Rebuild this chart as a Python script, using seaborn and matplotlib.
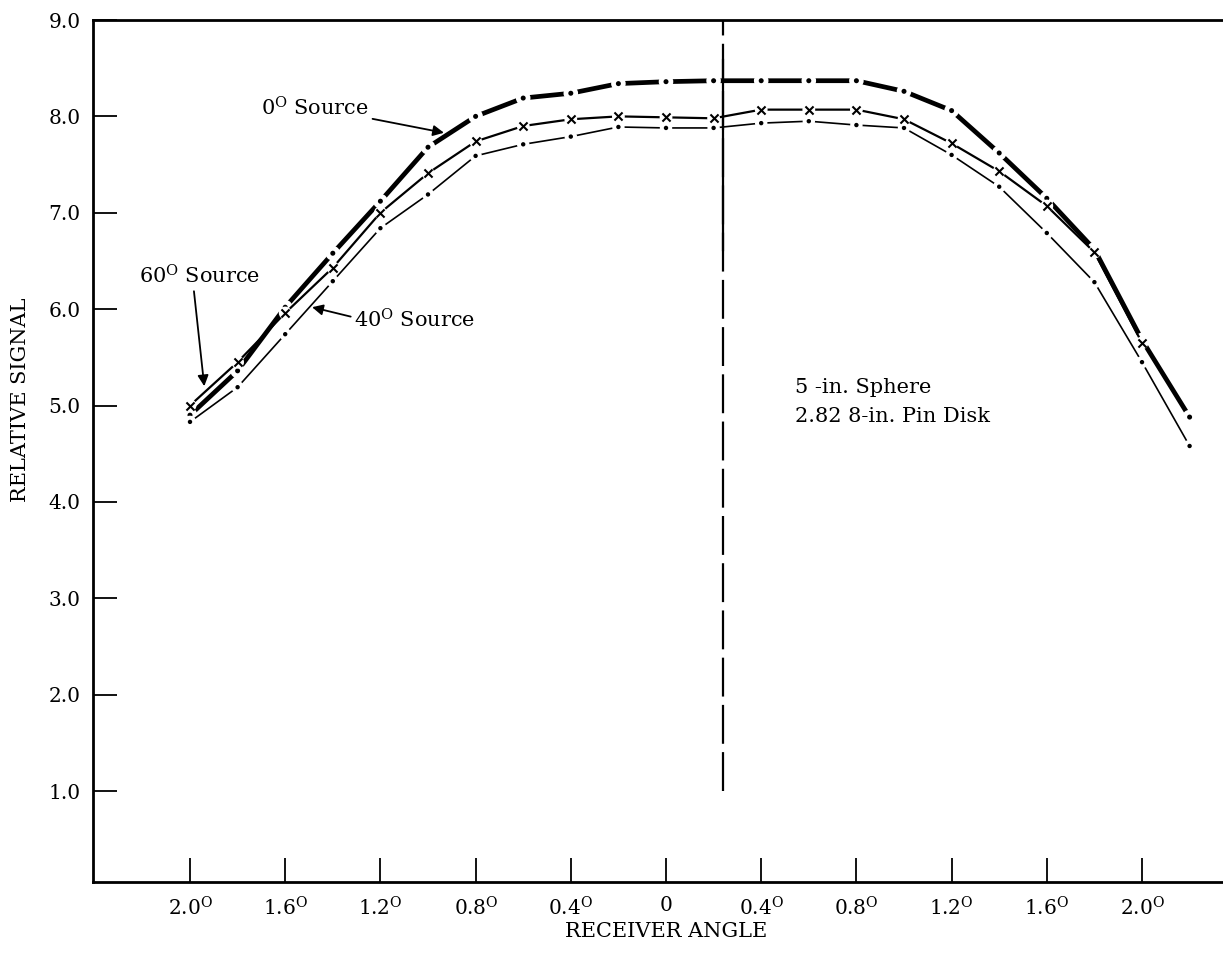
import matplotlib
matplotlib.use("Agg")
import matplotlib.pyplot as plt
import seaborn as sns

# ---------------- data ----------------
angle = [-2.0, -1.8, -1.6, -1.4, -1.2, -1.0, -0.8, -0.6, -0.4, -0.2, 0.0,
         0.2, 0.4, 0.6, 0.8, 1.0, 1.2, 1.4, 1.6, 1.8, 2.0, 2.2]

src0 = [4.90, 5.36, 6.02, 6.58, 7.12, 7.68, 8.00, 8.19, 8.24, 8.34, 8.36,
        8.37, 8.37, 8.37, 8.37, 8.26, 8.06, 7.62, 7.15, 6.62, 5.68, 4.88]

angle60 = angle[:21]
src60 = [5.00, 5.45, 5.96, 6.43, 7.00, 7.41, 7.74, 7.90, 7.97, 8.00, 7.99,
         7.98, 8.07, 8.07, 8.07, 7.97, 7.72, 7.43, 7.07, 6.59, 5.65]

src40 = [4.83, 5.19, 5.74, 6.29, 6.84, 7.19, 7.59, 7.71, 7.79, 7.89, 7.88,
         7.88, 7.93, 7.95, 7.91, 7.88, 7.60, 7.27, 6.79, 6.28, 5.45, 4.58]

xtick_pos = [-2.0, -1.6, -1.2, -0.8, -0.4, 0.0, 0.4, 0.8, 1.2, 1.6, 2.0]
xtick_labels = [r"2.0$^{\mathrm{O}}$", r"1.6$^{\mathrm{O}}$", r"1.2$^{\mathrm{O}}$",
                r"0.8$^{\mathrm{O}}$", r"0.4$^{\mathrm{O}}$", "0",
                r"0.4$^{\mathrm{O}}$", r"0.8$^{\mathrm{O}}$", r"1.2$^{\mathrm{O}}$",
                r"1.6$^{\mathrm{O}}$", r"2.0$^{\mathrm{O}}$"]
ytick_pos = [1.0, 2.0, 3.0, 4.0, 5.0, 6.0, 7.0, 8.0, 9.0]
ytick_labels = ["1.0", "2.0", "3.0", "4.0", "5.0", "6.0", "7.0", "8.0", "9.0"]

ref_line_x = [0.24, 0.24]
ref_line_y = [1.0, 9.0]
ref_solid_y = [6.6, 8.6]

# ---------------- style ----------------
sns.set_style("ticks")
plt.rcParams["font.family"] = ["DejaVu Serif"]
plt.rcParams["mathtext.fontset"] = "dejavuserif"
plt.rcParams["lines.scale_dashes"] = False
for key in ["text.color", "axes.labelcolor", "xtick.color", "ytick.color",
            "axes.edgecolor"]:
    plt.rcParams[key] = "black"

fig = plt.figure(figsize=(12.23, 9.56), dpi=100)
ax = fig.add_axes([93 / 1223, 74 / 956, 1130 / 1223, 862 / 956])

# reference vertical line
sns.lineplot(x=ref_line_x, y=ref_line_y, ax=ax, color="black", lw=1.6,
             sort=False, estimator=None, zorder=1.5)
ax.lines[-1].set_dashes([28, 6])
sns.lineplot(x=ref_line_x, y=ref_solid_y, ax=ax, color="black", lw=1.6,
             sort=False, estimator=None, zorder=1.5)

# 0 deg source: thick dash-dot
sns.lineplot(x=angle, y=src0, ax=ax, color="black", lw=3.4, sort=False,
             estimator=None, zorder=2)
sns.scatterplot(x=angle, y=src0, ax=ax, marker="o", s=110, color="white",
                edgecolor="none", zorder=2.1)
sns.scatterplot(x=angle, y=src0, ax=ax, marker="o", s=13, color="black",
                edgecolor="none", zorder=2.2)

# 40 deg source: thin dash-dot
sns.lineplot(x=angle, y=src40, ax=ax, color="black", lw=1.2, sort=False,
             estimator=None, zorder=3)
sns.scatterplot(x=angle, y=src40, ax=ax, marker="o", s=80, color="white",
                edgecolor="none", zorder=3.1)
sns.scatterplot(x=angle, y=src40, ax=ax, marker="o", s=10, color="black",
                edgecolor="none", zorder=3.2)

# 60 deg source: line with x markers
sns.lineplot(x=angle60, y=src60, ax=ax, color="black", lw=1.6, sort=False,
             estimator=None, zorder=4)
sns.scatterplot(x=angle60, y=src60, ax=ax, marker="o", s=85, color="white",
                edgecolor="none", zorder=4.1)
sns.scatterplot(x=angle60, y=src60, ax=ax, marker="x", s=34, color="black",
                linewidth=1.5, zorder=4.2)

# ---------------- axes ----------------
ax.set_xlim((93 - 666) / 238, (1223 - 666) / 238)
ax.set_ylim(0.056, 9.0)
ax.set_xticks(xtick_pos)
ax.set_xticklabels(xtick_labels)
ax.set_yticks(ytick_pos)
ax.set_yticklabels(ytick_labels)
ax.set_xticks([0.0], minor=True)
ax.tick_params(axis="x", which="major", direction="in", length=17, width=1.3,
               labelsize=14.5, pad=10)
ax.tick_params(axis="x", which="minor", direction="in", length=33, width=1.5)
ax.tick_params(axis="y", which="major", direction="in", length=17, width=1.3,
               labelsize=14.5, pad=9)
ax.tick_params(axis="y", which="minor", length=0)

for side in ["top", "left", "bottom"]:
    ax.spines[side].set_linewidth(2.0)
ax.spines["right"].set_visible(False)

ax.set_xlabel("RECEIVER ANGLE", fontsize=15)
ax.set_ylabel("RELATIVE SIGNAL", fontsize=15)
ax.xaxis.set_label_coords(0.507, -0.046)
ax.yaxis.set_label_coords(-0.056, 0.56)

# ---------------- annotations ----------------
arrow = dict(arrowstyle="-|>", color="black", lw=1.3, mutation_scale=16,
             shrinkA=0, shrinkB=0)
ax.annotate(r"0$^{\mathrm{O}}$ Source", xy=(-0.933, 7.83), xytext=(-1.70, 8.09),
            fontsize=15, va="center", ha="left", arrowprops=arrow)
ax.annotate(r"60$^{\mathrm{O}}$ Source", xy=(-1.94, 5.20), xytext=(-2.214, 6.34),
            fontsize=15, va="center", ha="left",
            arrowprops=dict(arrow, relpos=(0.45, 0.0)))
ax.annotate(r"40$^{\mathrm{O}}$ Source", xy=(-1.487, 6.02), xytext=(-1.311, 5.89),
            fontsize=15, va="center", ha="left",
            arrowprops=dict(arrow, relpos=(0.0, 0.6)))
ax.text(0.542, 5.19, "5 -in. Sphere", fontsize=15, va="center", ha="left")
ax.text(0.542, 4.89, "2.82 8-in. Pin Disk", fontsize=15, va="center", ha="left")

fig.savefig("out.png", dpi=100)
